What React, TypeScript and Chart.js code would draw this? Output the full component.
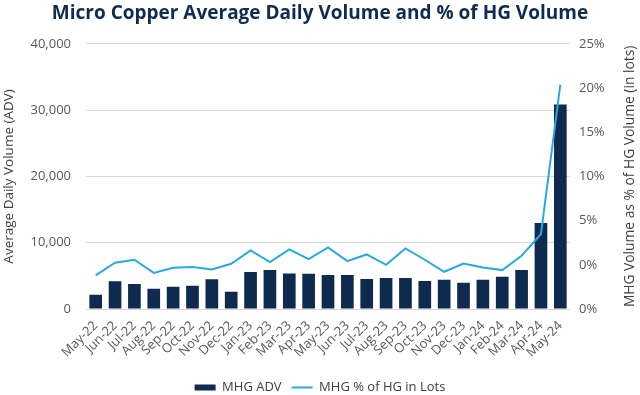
import React, { useEffect, useRef } from "react";
import { Chart, registerables } from "chart.js";

Chart.register(...registerables);

const months = [
  "May-22", "Jun-22", "Jul-22", "Aug-22", "Sep-22", "Oct-22", "Nov-22", "Dec-22",
  "Jan-23", "Feb-23", "Mar-23", "Apr-23", "May-23", "Jun-23", "Jul-23", "Aug-23",
  "Sep-23", "Oct-23", "Nov-23", "Dec-23", "Jan-24", "Feb-24", "Mar-24", "Apr-24", "May-24",
];

const mhgAdv = [
  2150, 4200, 3770, 3060, 3360, 3500, 4470, 2600,
  5580, 5880, 5370, 5320, 5130, 5130, 4520, 4680,
  4680, 4220, 4420, 3970, 4420, 4870, 5880, 12970, 30860,
];

const mhgPctOfHg = [
  -1.2, 0.23, 0.57, -0.91, -0.34, -0.26, -0.53, 0.11,
  1.62, 0.3, 1.74, 0.64, 1.96, 0.42, 1.17, 0.0,
  1.85, 0.57, -0.79, 0.15, -0.3, -0.6, 1.02, 3.47, 20.38,
];

const pctTickLabels = ["0%", "0%", "5%", "10%", "15%", "20%", "25%"];

const TITLE = "Micro Copper Average Daily Volume and % of HG Volume";
const LEFT_TITLE = "Average Daily Volume (ADV)";
const RIGHT_TITLE = "MHG Volume as % of HG Volume (in lots)";
const BAR_LABEL = "MHG ADV";
const LINE_LABEL = "MHG % of HG in Lots";

const FONT = "'Open Sans', Lato, sans-serif";
const NAVY = "#0e2b4f";
const BLUE = "#2aa8e0";
const TEXT = "#595959";
const AXIS_TITLE = "#404040";
const GRID = "#d9d9d9";

export default function App() {
  const ref = useRef<HTMLCanvasElement | null>(null);

  useEffect(() => {
    if (!ref.current) return;
    Chart.defaults.font.family = FONT;

    const rightTitlePlugin = {
      id: "rightTitle",
      afterDraw(chart: any) {
        const { ctx, chartArea } = chart;
        ctx.save();
        ctx.translate(630, (chartArea.top + chartArea.bottom) / 2);
        ctx.rotate(-Math.PI / 2);
        ctx.textAlign = "center";
        ctx.textBaseline = "middle";
        ctx.font = "13.8px " + FONT;
        ctx.fillStyle = AXIS_TITLE;
        ctx.fillText(RIGHT_TITLE, 0, 0);
        ctx.restore();
      },
    };

    const chart = new Chart(ref.current, {
      type: "bar",
      data: {
        labels: months,
        datasets: [
          {
            type: "bar",
            label: BAR_LABEL,
            data: mhgAdv,
            backgroundColor: NAVY,
            borderWidth: 0,
            barPercentage: 0.655,
            categoryPercentage: 1,
            yAxisID: "y",
            order: 1,
          },
          {
            type: "line",
            label: LINE_LABEL,
            data: mhgPctOfHg,
            borderColor: BLUE,
            backgroundColor: BLUE,
            borderWidth: 2,
            pointRadius: 0,
            tension: 0,
            yAxisID: "y1",
            order: 0,
          } as any,
        ],
      },
      options: {
        responsive: false,
        animation: false,
        layout: { padding: { left: 0, right: 0, top: 0, bottom: -9 } },
        plugins: {
          tooltip: { enabled: false },
          title: {
            display: true,
            text: TITLE,
            color: "#0e2b50",
            font: { size: 19, weight: "bold" },
            padding: { top: 2, bottom: 19 },
          },
          legend: {
            position: "bottom",
            labels: {
              usePointStyle: true,
              pointStyleWidth: 21,
              boxHeight: 6,
              color: AXIS_TITLE,
              font: { size: 13 },
              padding: 10,
              generateLabels(chart: any) {
                const items = Chart.defaults.plugins.legend.labels.generateLabels(chart);
                items.sort((a: any, b: any) => a.datasetIndex - b.datasetIndex);
                return items.map((it: any) => ({
                  ...it,
                  pointStyle: it.datasetIndex === 0 ? "rect" : "line",
                  lineWidth: it.datasetIndex === 0 ? 0 : 2,
                  strokeStyle: it.datasetIndex === 0 ? NAVY : BLUE,
                  fillStyle: it.datasetIndex === 0 ? NAVY : BLUE,
                }));
              },
            },
          },
        },
        scales: {
          x: {
            grid: { display: false },
            border: { display: false },
            ticks: {
              color: TEXT,
              font: { size: 13 },
              autoSkip: false,
              minRotation: 45,
              maxRotation: 45,
              padding: 1,
            },
            afterFit(scale: any) {
              const lg = scale.chart.legend ? scale.chart.legend.height : 0;
              scale.height = 395 + 9 - 309 - lg;
            },
          },
          y: {
            position: "left",
            min: 0,
            max: 40000,
            ticks: { stepSize: 10000, color: TEXT, font: { size: 13 }, padding: 15 },
            grid: { color: GRID, lineWidth: 1, drawTicks: false },
            border: { display: false },
            title: {
              display: true,
              text: LEFT_TITLE,
              color: AXIS_TITLE,
              font: { size: 13.5 },
              padding: { top: 1, bottom: 0 },
            },
            afterFit(scale: any) {
              scale.width = 86;
            },
          },
          y1: {
            position: "right",
            min: -5,
            max: 25,
            ticks: {
              stepSize: 5,
              color: TEXT,
              font: { size: 13 },
              padding: 9,
              callback: (_v: any, i: number) => pctTickLabels[i],
            },
            grid: { display: false, drawTicks: false },
            border: { display: false },
            afterFit(scale: any) {
              scale.width = 70;
            },
          },
        },
      },
      plugins: [rightTitlePlugin],
    });

    return () => chart.destroy();
  }, []);

  return (
    <div style={{ position: "fixed", left: 0, top: 0, width: 640, height: 395, background: "#fff" }}>
      <canvas ref={ref} width={640} height={395} />
    </div>
  );
}
